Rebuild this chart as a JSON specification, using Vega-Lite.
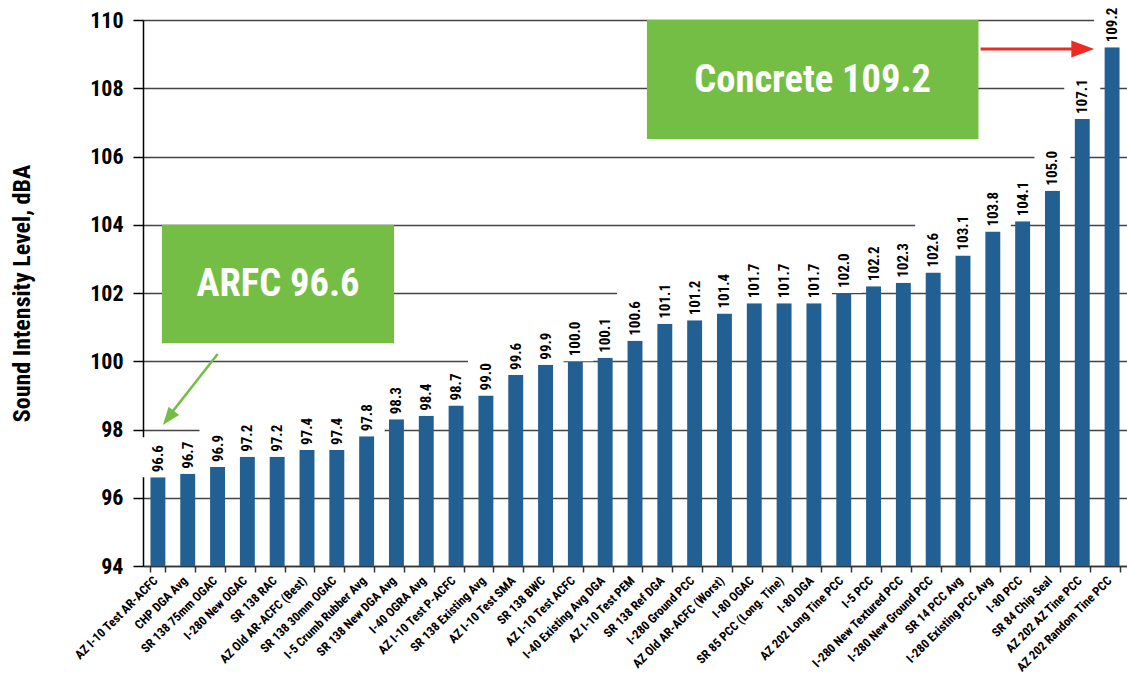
{
  "$schema": "https://vega.github.io/schema/vega-lite/v6.json",
  "autosize": "none",
  "width": 984,
  "height": 546,
  "padding": {"left": 143, "top": 20, "right": 0, "bottom": 109},
  "background": "white",
  "config": {
    "view": {"stroke": null},
    "font": "Roboto Condensed, Roboto"
  },
  "datasets": {
    "bars": [
      {"name": "AZ I-10 Test AR-ACFC", "value": 96.6},
      {"name": "CHP DGA Avg", "value": 96.7},
      {"name": "SR 138 75mm OGAC", "value": 96.9},
      {"name": "I-280 New OGAC", "value": 97.2},
      {"name": "SR 138 RAC", "value": 97.2},
      {"name": "AZ Old AR-ACFC (Best)", "value": 97.4},
      {"name": "SR 138 30mm OGAC", "value": 97.4},
      {"name": "I-5 Crumb Rubber Avg", "value": 97.8},
      {"name": "SR 138 New DGA Avg", "value": 98.3},
      {"name": "I-40 OGRA Avg", "value": 98.4},
      {"name": "AZ I-10 Test P-ACFC", "value": 98.7},
      {"name": "SR 138 Existing Avg", "value": 99.0},
      {"name": "AZ I-10 Test SMA", "value": 99.6},
      {"name": "SR 138 BWC", "value": 99.9},
      {"name": "AZ I-10 Test ACFC", "value": 100.0},
      {"name": "I-40 Existing Avg DGA", "value": 100.1},
      {"name": "AZ I-10 Test PEM", "value": 100.6},
      {"name": "SR 138 Ref DGA", "value": 101.1},
      {"name": "I-280 Ground PCC", "value": 101.2},
      {"name": "AZ Old AR-ACFC (Worst)", "value": 101.4},
      {"name": "I-80 OGAC", "value": 101.7},
      {"name": "SR 85 PCC (Long. Tine)", "value": 101.7},
      {"name": "I-80 DGA", "value": 101.7},
      {"name": "AZ 202 Long Tine PCC", "value": 102.0},
      {"name": "I-5 PCC", "value": 102.2},
      {"name": "I-280 New Textured PCC", "value": 102.3},
      {"name": "I-280 New Ground PCC", "value": 102.6},
      {"name": "SR 14 PCC Avg", "value": 103.1},
      {"name": "I-280 Existing PCC Avg", "value": 103.8},
      {"name": "I-80 PCC", "value": 104.1},
      {"name": "SR 84 Chip Seal", "value": 105.0},
      {"name": "AZ 202 AZ Tine PCC", "value": 107.1},
      {"name": "AZ 202 Random Tine PCC", "value": 109.2}
    ],
    "boxes": [
      {"x0": 0.635, "x1": 8.42, "y0": 100.53, "y1": 104.0},
      {"x0": 16.9, "x1": 28.02, "y0": 106.51, "y1": 110.0}
    ],
    "callouts": [
      {"x": 4.53, "y": 102.26, "text": "ARFC 96.6"},
      {"x": 22.46, "y": 108.24, "text": "Concrete 109.2"}
    ],
    "greenLine": [{"x": 2.505, "y": 100.21, "x2": 0.85, "y2": 98.37}],
    "greenHead": [{"x": 0.668, "y": 98.13}],
    "redLine": [{"x": 28.09, "y": 109.15, "x2": 31.2, "y2": 109.15}],
    "redHead": [{"x": 31.9, "y": 109.15}]
  },
  "resolve": {"scale": {"x": "independent"}, "axis": {"x": "independent"}},
  "layer": [
    {
      "data": {"name": "bars"},
      "encoding": {
        "x": {
          "field": "name", "type": "nominal", "sort": null,
          "scale": {"paddingInner": 0.5, "paddingOuter": 0.25},
          "axis": {
            "title": null, "labelAngle": -45, "labelFontSize": 12.5, "labelFontWeight": "bold",
            "labelColor": "black", "labelPadding": 2, "labelOffset": -7, "labelLimit": 300, "labelOverlap": false,
            "tickBand": "extent", "tickSize": 6, "tickColor": "#333", "tickWidth": 1.5,
            "domainColor": "#333", "domainWidth": 1.5, "grid": false
          }
        },
        "y": {
          "field": "value", "type": "quantitative",
          "scale": {"domain": [94, 110], "zero": false, "nice": false},
          "axis": {
            "title": "Sound Intensity Level, dBA", "titleFontSize": 24, "titleFontWeight": "bold",
            "titleColor": "black", "titleAngle": -90, "titleX": -121, "titleY": 273,
            "titleAlign": "center", "titleBaseline": "middle",
            "values": [94, 96, 98, 100, 102, 104, 106, 108, 110],
            "labelFontSize": 22, "labelFontWeight": "bold", "labelColor": "black", "labelPadding": 10,
            "tickSize": 10, "tickColor": "black", "tickWidth": 1.5,
            "domainColor": "black", "domainWidth": 1.5,
            "grid": true, "gridColor": "#444", "gridWidth": 1.5
          }
        }
      },
      "layer": [
        {
          "mark": {"type": "bar", "color": "#226093"},
          "encoding": {"y2": {"datum": 94}}
        },
        {
          "transform": [{"filter": "datum.value < 100"}],
          "mark": {"type": "tick", "color": "white", "opacity": 1, "thickness": 40, "yOffset": -20},
          "encoding": {"size": {"value": 36}}
        },
        {
          "transform": [{"filter": "datum.value >= 100"}],
          "mark": {"type": "tick", "color": "white", "opacity": 1, "thickness": 49, "yOffset": -24.5},
          "encoding": {"size": {"value": 36}}
        },
        {
          "mark": {"type": "text", "angle": 270, "align": "left", "baseline": "middle", "dx": 5, "fontSize": 15, "fontWeight": "bold", "color": "black"},
          "encoding": {
            "text": {"field": "value", "type": "quantitative", "format": ".1f"}
          }
        }
      ]
    },
    {
      "layer": [
        {
          "data": {"name": "boxes"},
          "mark": {"type": "rect", "color": "#75BE45"},
          "encoding": {
            "x": {"field": "x0", "type": "quantitative", "scale": {"domain": [0, 33], "nice": false, "zero": false}, "axis": null},
            "x2": {"field": "x1"},
            "y": {"field": "y0", "type": "quantitative"},
            "y2": {"field": "y1"}
          }
        },
        {
          "data": {"name": "callouts"},
          "mark": {"type": "text", "color": "white", "fontSize": 38.5, "fontWeight": "bold", "align": "center", "baseline": "middle"},
          "encoding": {
            "x": {"field": "x", "type": "quantitative", "axis": null},
            "y": {"field": "y", "type": "quantitative"},
            "text": {"field": "text"}
          }
        },
        {
          "data": {"name": "greenLine"},
          "mark": {"type": "rule", "color": "#75BE45", "strokeWidth": 2.5},
          "encoding": {
            "x": {"field": "x", "type": "quantitative", "axis": null},
            "y": {"field": "y", "type": "quantitative"},
            "x2": {"field": "x2"},
            "y2": {"field": "y2"}
          }
        },
        {
          "data": {"name": "greenHead"},
          "mark": {"type": "point", "shape": "M0,0L-0.6,1.6L0.6,1.6Z", "filled": true, "color": "#75BE45", "opacity": 1, "size": 500, "angle": 217.8, "strokeWidth": 0},
          "encoding": {
            "x": {"field": "x", "type": "quantitative", "axis": null},
            "y": {"field": "y", "type": "quantitative"}
          }
        },
        {
          "data": {"name": "redLine"},
          "mark": {"type": "rule", "color": "#EE2A24", "strokeWidth": 3},
          "encoding": {
            "x": {"field": "x", "type": "quantitative", "axis": null},
            "y": {"field": "y", "type": "quantitative"},
            "x2": {"field": "x2"},
            "y2": {"field": "y2"}
          }
        },
        {
          "data": {"name": "redHead"},
          "mark": {"type": "point", "shape": "M0,0L-0.6,1.6L0.6,1.6Z", "filled": true, "color": "#EE2A24", "opacity": 1, "size": 820, "angle": 90, "strokeWidth": 0},
          "encoding": {
            "x": {"field": "x", "type": "quantitative", "axis": null},
            "y": {"field": "y", "type": "quantitative"}
          }
        }
      ]
    }
  ]
}
